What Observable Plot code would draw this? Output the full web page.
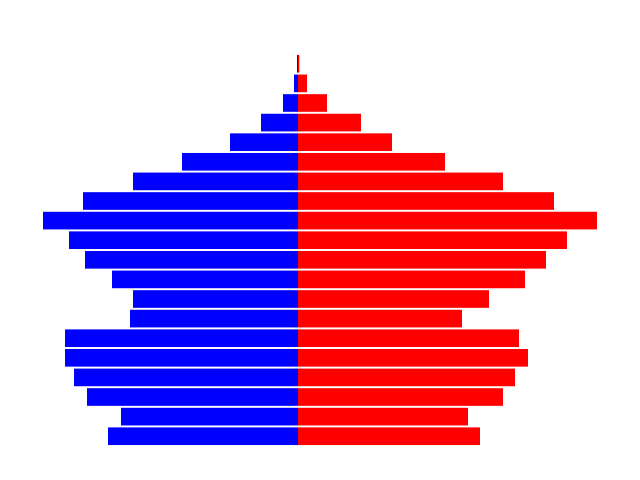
<!DOCTYPE html>
<html>
<head>
<meta charset="utf-8">
<script src="https://cdn.jsdelivr.net/npm/d3@7"></script>
<script src="https://cdn.jsdelivr.net/npm/@observablehq/plot@0.6"></script>
<style>
  html, body { margin: 0; padding: 0; background: #fff; }
</style>
</head>
<body>
<div id="chart"></div>
<script>
// Age groups, youngest first (bottom row of the pyramid is the youngest)
const ageGroups = ["0-4","5-9","10-14","15-19","20-24","25-29","30-34","35-39","40-44","45-49",
                   "50-54","55-59","60-64","65-69","70-74","75-79","80-84","85-89","90-94","95+"];
// Male population (blue, drawn to the left), youngest first
const male =   [190, 177, 211, 224, 233, 233, 168, 165, 186, 213, 229, 255, 215, 165, 116, 68, 37, 15, 4, 1];
// Female population (red, drawn to the right), youngest first
const female = [182, 170, 205, 217, 230, 221, 164, 191, 227, 248, 269, 299, 256, 205, 147, 94, 63, 29, 9, 1.3];

const rows = ageGroups.map((age, i) => ({age, male: male[i], female: female[i]}));

const chart = Plot.plot({
  width: 640,
  height: 480,
  marginLeft: 43,
  marginRight: 43,
  marginTop: 53,
  marginBottom: 33,
  x: {domain: [-d3.max(male), d3.max(female)], axis: null},
  y: {domain: ageGroups.slice().reverse(), axis: null, padding: 0.1, round: false},
  marks: [
    Plot.barX(rows, {y: "age", x1: 0, x2: d => -d.male, fill: "#0000ff"}),
    Plot.barX(rows, {y: "age", x1: 0, x2: d => d.female, fill: "#ff0000"})
  ]
});
document.getElementById("chart").appendChild(chart);
</script>
</body>
</html>
